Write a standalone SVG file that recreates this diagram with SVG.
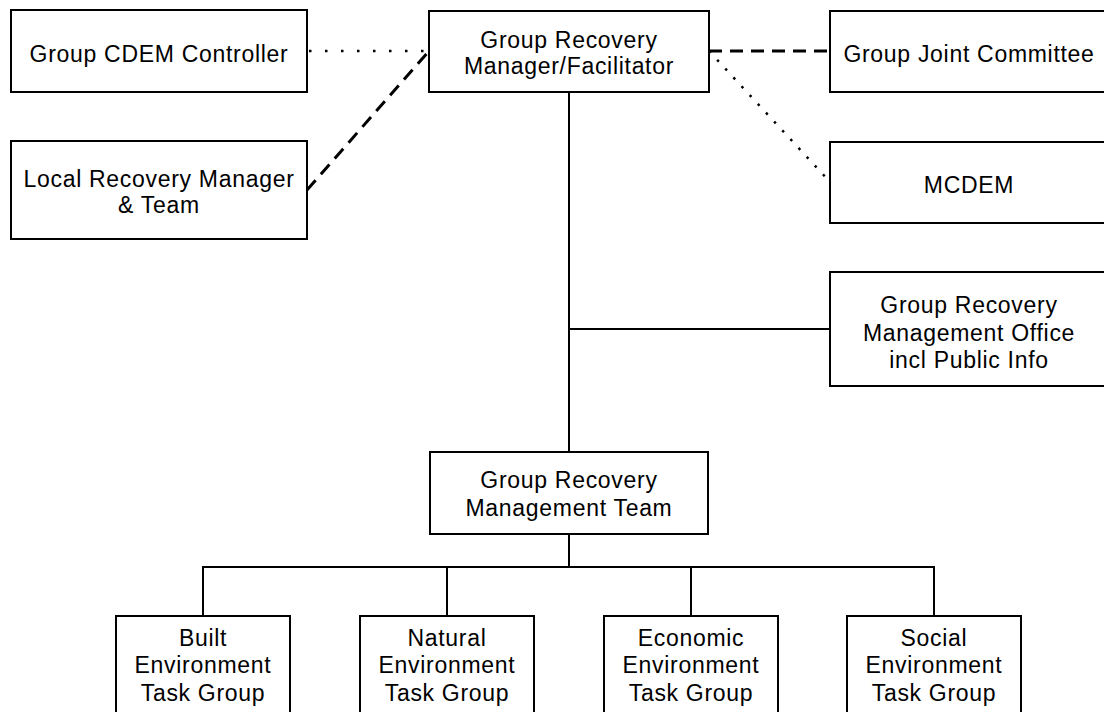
<svg xmlns="http://www.w3.org/2000/svg" width="1104" height="712" viewBox="0 0 1104 712">
<style>
.box{fill:#fff;stroke:#000;stroke-width:2}
.t{font-family:"Liberation Sans",Arial,sans-serif;font-size:23px;letter-spacing:0.7px;fill:#000;text-anchor:middle}
.solid{stroke:#000;stroke-width:2;fill:none}
.dash{stroke:#000;stroke-width:3;fill:none;stroke-dasharray:13 8}
.dotx{stroke:#000;stroke-width:2.5;fill:none;stroke-dasharray:2.5 13.5}
.dotd{stroke:#000;stroke-width:2.5;fill:none;stroke-dasharray:2.5 9.5}
</style>
<rect width="1104" height="712" fill="#fff"/>
<g id="connectors">
<line class="dotx" x1="309" y1="51" x2="429" y2="51"/>
<line class="dash" x1="307" y1="190" x2="429" y2="51"/>
<line class="dash" x1="709" y1="51" x2="830" y2="51"/>
<line class="dotd" x1="709" y1="51" x2="830" y2="182"/>
<line class="solid" x1="569" y1="92" x2="569" y2="452"/>
<line class="solid" x1="569" y1="329" x2="830" y2="329"/>
<line class="solid" x1="569" y1="534" x2="569" y2="567"/>
<polyline class="solid" points="203,616 203,567 934,567 934,616"/>
<line class="solid" x1="447" y1="567" x2="447" y2="616"/>
<line class="solid" x1="691" y1="567" x2="691" y2="616"/>
</g>
<g id="cdem-controller">
<rect class="box" x="11" y="10" width="296" height="82"/>
<text class="t" x="159" y="62">Group CDEM Controller</text>
</g>
<g id="local-recovery">
<rect class="box" x="11" y="141" width="296" height="98"/>
<text class="t" x="159" y="187">Local Recovery Manager</text>
<text class="t" x="159" y="213">&amp; Team</text>
</g>
<g id="recovery-manager">
<rect class="box" x="429" y="11" width="280" height="81"/>
<text class="t" x="569" y="48">Group Recovery</text>
<text class="t" x="569" y="74">Manager/Facilitator</text>
</g>
<g id="joint-committee">
<rect class="box" x="830" y="11" width="280" height="81"/>
<text class="t" x="969" y="62">Group Joint Committee</text>
</g>
<g id="mcdem">
<rect class="box" x="830" y="142" width="280" height="81"/>
<text class="t" x="969" y="193">MCDEM</text>
</g>
<g id="management-office">
<rect class="box" x="830" y="272" width="280" height="114"/>
<text class="t" x="969" y="313">Group Recovery</text>
<text class="t" x="969" y="341">Management Office</text>
<text class="t" x="969" y="368">incl Public Info</text>
</g>
<g id="management-team">
<rect class="box" x="430" y="452" width="278" height="82"/>
<text class="t" x="569" y="488">Group Recovery</text>
<text class="t" x="569" y="516">Management Team</text>
</g>
<g id="built">
<rect class="box" x="116" y="616" width="174" height="110"/>
<text class="t" x="203" y="646">Built</text>
<text class="t" x="203" y="673">Environment</text>
<text class="t" x="203" y="701">Task Group</text>
</g>
<g id="natural">
<rect class="box" x="360" y="616" width="174" height="110"/>
<text class="t" x="447" y="646">Natural</text>
<text class="t" x="447" y="673">Environment</text>
<text class="t" x="447" y="701">Task Group</text>
</g>
<g id="economic">
<rect class="box" x="604" y="616" width="174" height="110"/>
<text class="t" x="691" y="646">Economic</text>
<text class="t" x="691" y="673">Environment</text>
<text class="t" x="691" y="701">Task Group</text>
</g>
<g id="social">
<rect class="box" x="847" y="616" width="174" height="110"/>
<text class="t" x="934" y="646">Social</text>
<text class="t" x="934" y="673">Environment</text>
<text class="t" x="934" y="701">Task Group</text>
</g>
</svg>
